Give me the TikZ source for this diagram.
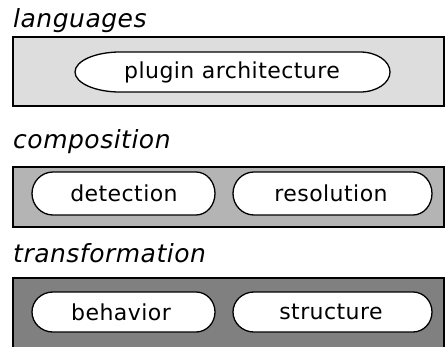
\documentclass[tikz,border=0pt]{standalone}
\usepackage{fontspec}
\setmainfont{DejaVu Sans}
\usetikzlibrary{positioning,calc}
\definecolor{lightlayer}{RGB}{221,221,221}
\definecolor{midlayer}{RGB}{180,180,180}
\definecolor{darklayer}{RGB}{128,128,128}

\begin{document}
\begin{tikzpicture}[x=1pt,y=-1pt,
    layer/.style={draw=black,line width=1.2pt},
    pill/.style={draw=black,fill=white,line width=1.3pt},
    pilltext/.style={inner sep=0pt,font=\fontsize{22}{24}\selectfont\addfontfeature{LetterSpace=2}},
    caption/.style={anchor=base west,inner sep=0pt,font=\fontsize{25}{27}\selectfont\itshape\addfontfeature{LetterSpace=2}}]
  \useasboundingbox (0,0) rectangle (445,346);
  \clip (0,0) rectangle (445,346);
  % layers
  \node [caption] (languages) at (13,27) {languages};
  \draw [layer,fill=lightlayer] (13,37) rectangle (444,106);
  \node [caption] (composition) at (13,148) {composition};
  \draw [layer,fill=midlayer] (13,167) rectangle (444,227);
  \node [caption] (transformation) at (13,262) {transformation};
  \draw [layer,fill=darklayer] (13,278) rectangle (444,360);
  % pills
  \draw [pill] (120,52) -- (360,52)
    arc [start angle=-90,end angle=90,x radius=30,y radius=20] -- (120,92)
    arc [start angle=90,end angle=270,x radius=45,y radius=20] -- cycle;
  \node [pilltext] (plugin) at (232,72) {plugin architecture};
  \draw [pill] (53,172) -- (196,172)
    arc [start angle=-90,end angle=90,x radius=19,y radius=21.5] -- (53,215)
    arc [start angle=90,end angle=270,x radius=21,y radius=21.5] -- cycle;
  \node [pilltext] (detection) at (124,193.5) {detection};
  \draw [pill] (254,172) -- (413,172)
    arc [start angle=-90,end angle=90,x radius=19,y radius=21.5] -- (254,215)
    arc [start angle=90,end angle=270,x radius=21,y radius=21.5] -- cycle;
  \node [pilltext] (resolution) at (331,193.5) {resolution};
  \draw [pill] (53,292) -- (196,292)
    arc [start angle=-90,end angle=90,x radius=19,y radius=20] -- (53,332)
    arc [start angle=90,end angle=270,x radius=21,y radius=20] -- cycle;
  \node [pilltext] (behavior) at (121,312) {behavior};
  \draw [pill] (254,292) -- (413,292)
    arc [start angle=-90,end angle=90,x radius=19,y radius=20] -- (254,332)
    arc [start angle=90,end angle=270,x radius=21,y radius=20] -- cycle;
  \node [pilltext] (structure) at (331,312) {structure};
\end{tikzpicture}
\end{document}
